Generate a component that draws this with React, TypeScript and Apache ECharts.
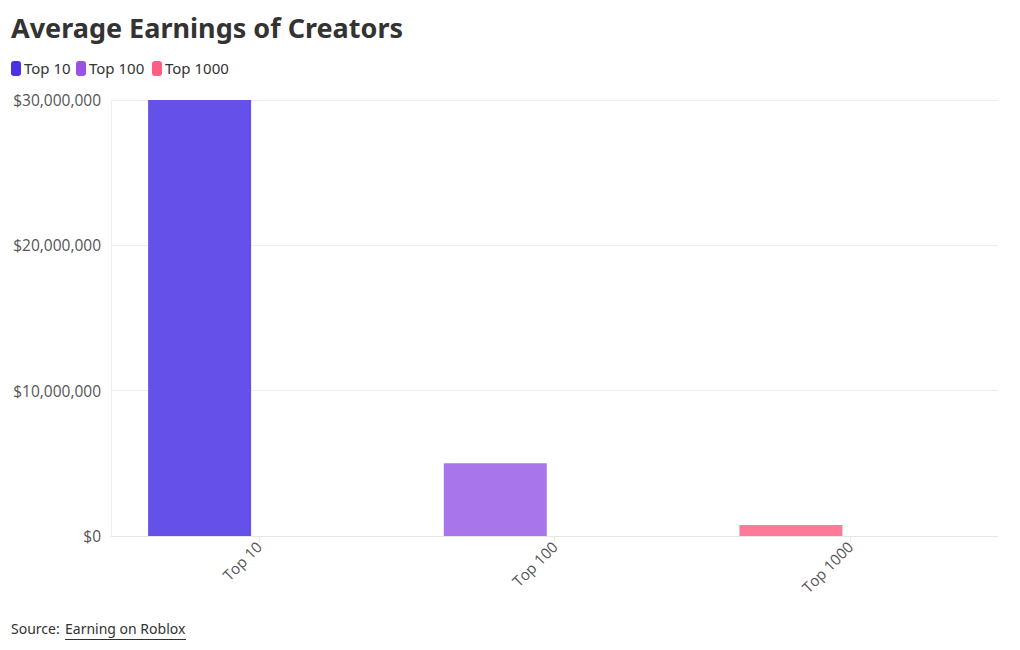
import React, { useEffect, useRef } from "react";
import * as echarts from "echarts";

const categories = ["Top 10", "Top 100", "Top 1000"];
const earnings = [30000000, 5000000, 750000];
const legendColors = ["#4a30e6", "#9a52e6", "#ff5f83"];
const barColors = ["#6650ea", "#a875ea", "#ff7a98"];
const yTicks = [0, 10000000, 20000000, 30000000];

const fmt = (v: number) => "$" + v.toLocaleString("en-US");

export default function App() {
  const ref = useRef<HTMLDivElement>(null);
  useEffect(() => {
    if (!ref.current) return;
    const chart = echarts.init(ref.current, undefined, { renderer: "svg" });
    const legendX = [11, 76, 152];
    chart.setOption({
      animation: false,
      backgroundColor: "#ffffff",
      title: {
        text: "Average Earnings of Creators",
        left: 6,
        top: 9,
        textStyle: { fontFamily: "Noto Sans", fontWeight: "bold", fontSize: 27, color: "#333333" },
      },
      graphic: [
        ...categories.map((c, i) => ({
          type: "group",
          left: legendX[i],
          top: 60,
          children: [
            { type: "rect", shape: { x: 0, y: 1, width: 10, height: 15, r: 3 }, style: { fill: legendColors[i] } },
            { type: "text", x: 13, y: 0, style: { text: c, font: "15px 'Noto Sans'", fill: "#333333" } },
          ],
        })),
        {
          type: "text",
          left: 11,
          top: 621,
          style: { text: "Source: ", font: "14px 'Noto Sans'", fill: "#333333" },
        },
        {
          type: "group",
          left: 65,
          top: 621,
          children: [
            { type: "text", x: 0, y: 0, style: { text: "Earning on Roblox", font: "14px 'Noto Sans'", fill: "#333333" } },
            { type: "rect", shape: { x: 0, y: 18, width: 121, height: 1 }, style: { fill: "#333333" } },
          ],
        },
      ],
      grid: { left: 111, right: 22, top: 100, bottom: 114, containLabel: false },
      xAxis: {
        type: "category",
        data: categories,
        axisLine: { show: true, lineStyle: { color: "#e6e6e6" } },
        axisTick: { show: true, alignWithLabel: true, length: 5, lineStyle: { color: "#e6e6e6" } },
        axisLabel: { rotate: 45, color: "#555555", fontSize: 15, fontFamily: "Open Sans", margin: 8 },
        splitLine: { show: false },
      },
      yAxis: {
        type: "value",
        min: 0,
        max: 30000000,
        interval: 10000000,
        axisLine: { show: true, lineStyle: { color: "#eeeeee" } },
        axisTick: { show: false },
        axisLabel: {
          color: "#555555",
          fontSize: 15.5,
          fontFamily: "Open Sans",
          margin: 10,
          formatter: (v: number) => (yTicks.includes(v) ? fmt(v) : ""),
        },
        splitLine: { show: true, lineStyle: { color: "#eeeeee" } },
      },
      series: [
        {
          type: "bar",
          barWidth: 103,
          barGap: "15%",
          data: earnings.map((v, i) => ({ value: v, itemStyle: { color: barColors[i] } })),
        },
        {
          type: "bar",
          barWidth: 103,
          data: earnings.map(() => null),
        },
      ],
    });
    return () => chart.dispose();
  }, []);
  return (
    <div
      ref={ref}
      style={{ width: 1020, height: 650, position: "absolute", left: 0, top: 0 }}
    />
  );
}
